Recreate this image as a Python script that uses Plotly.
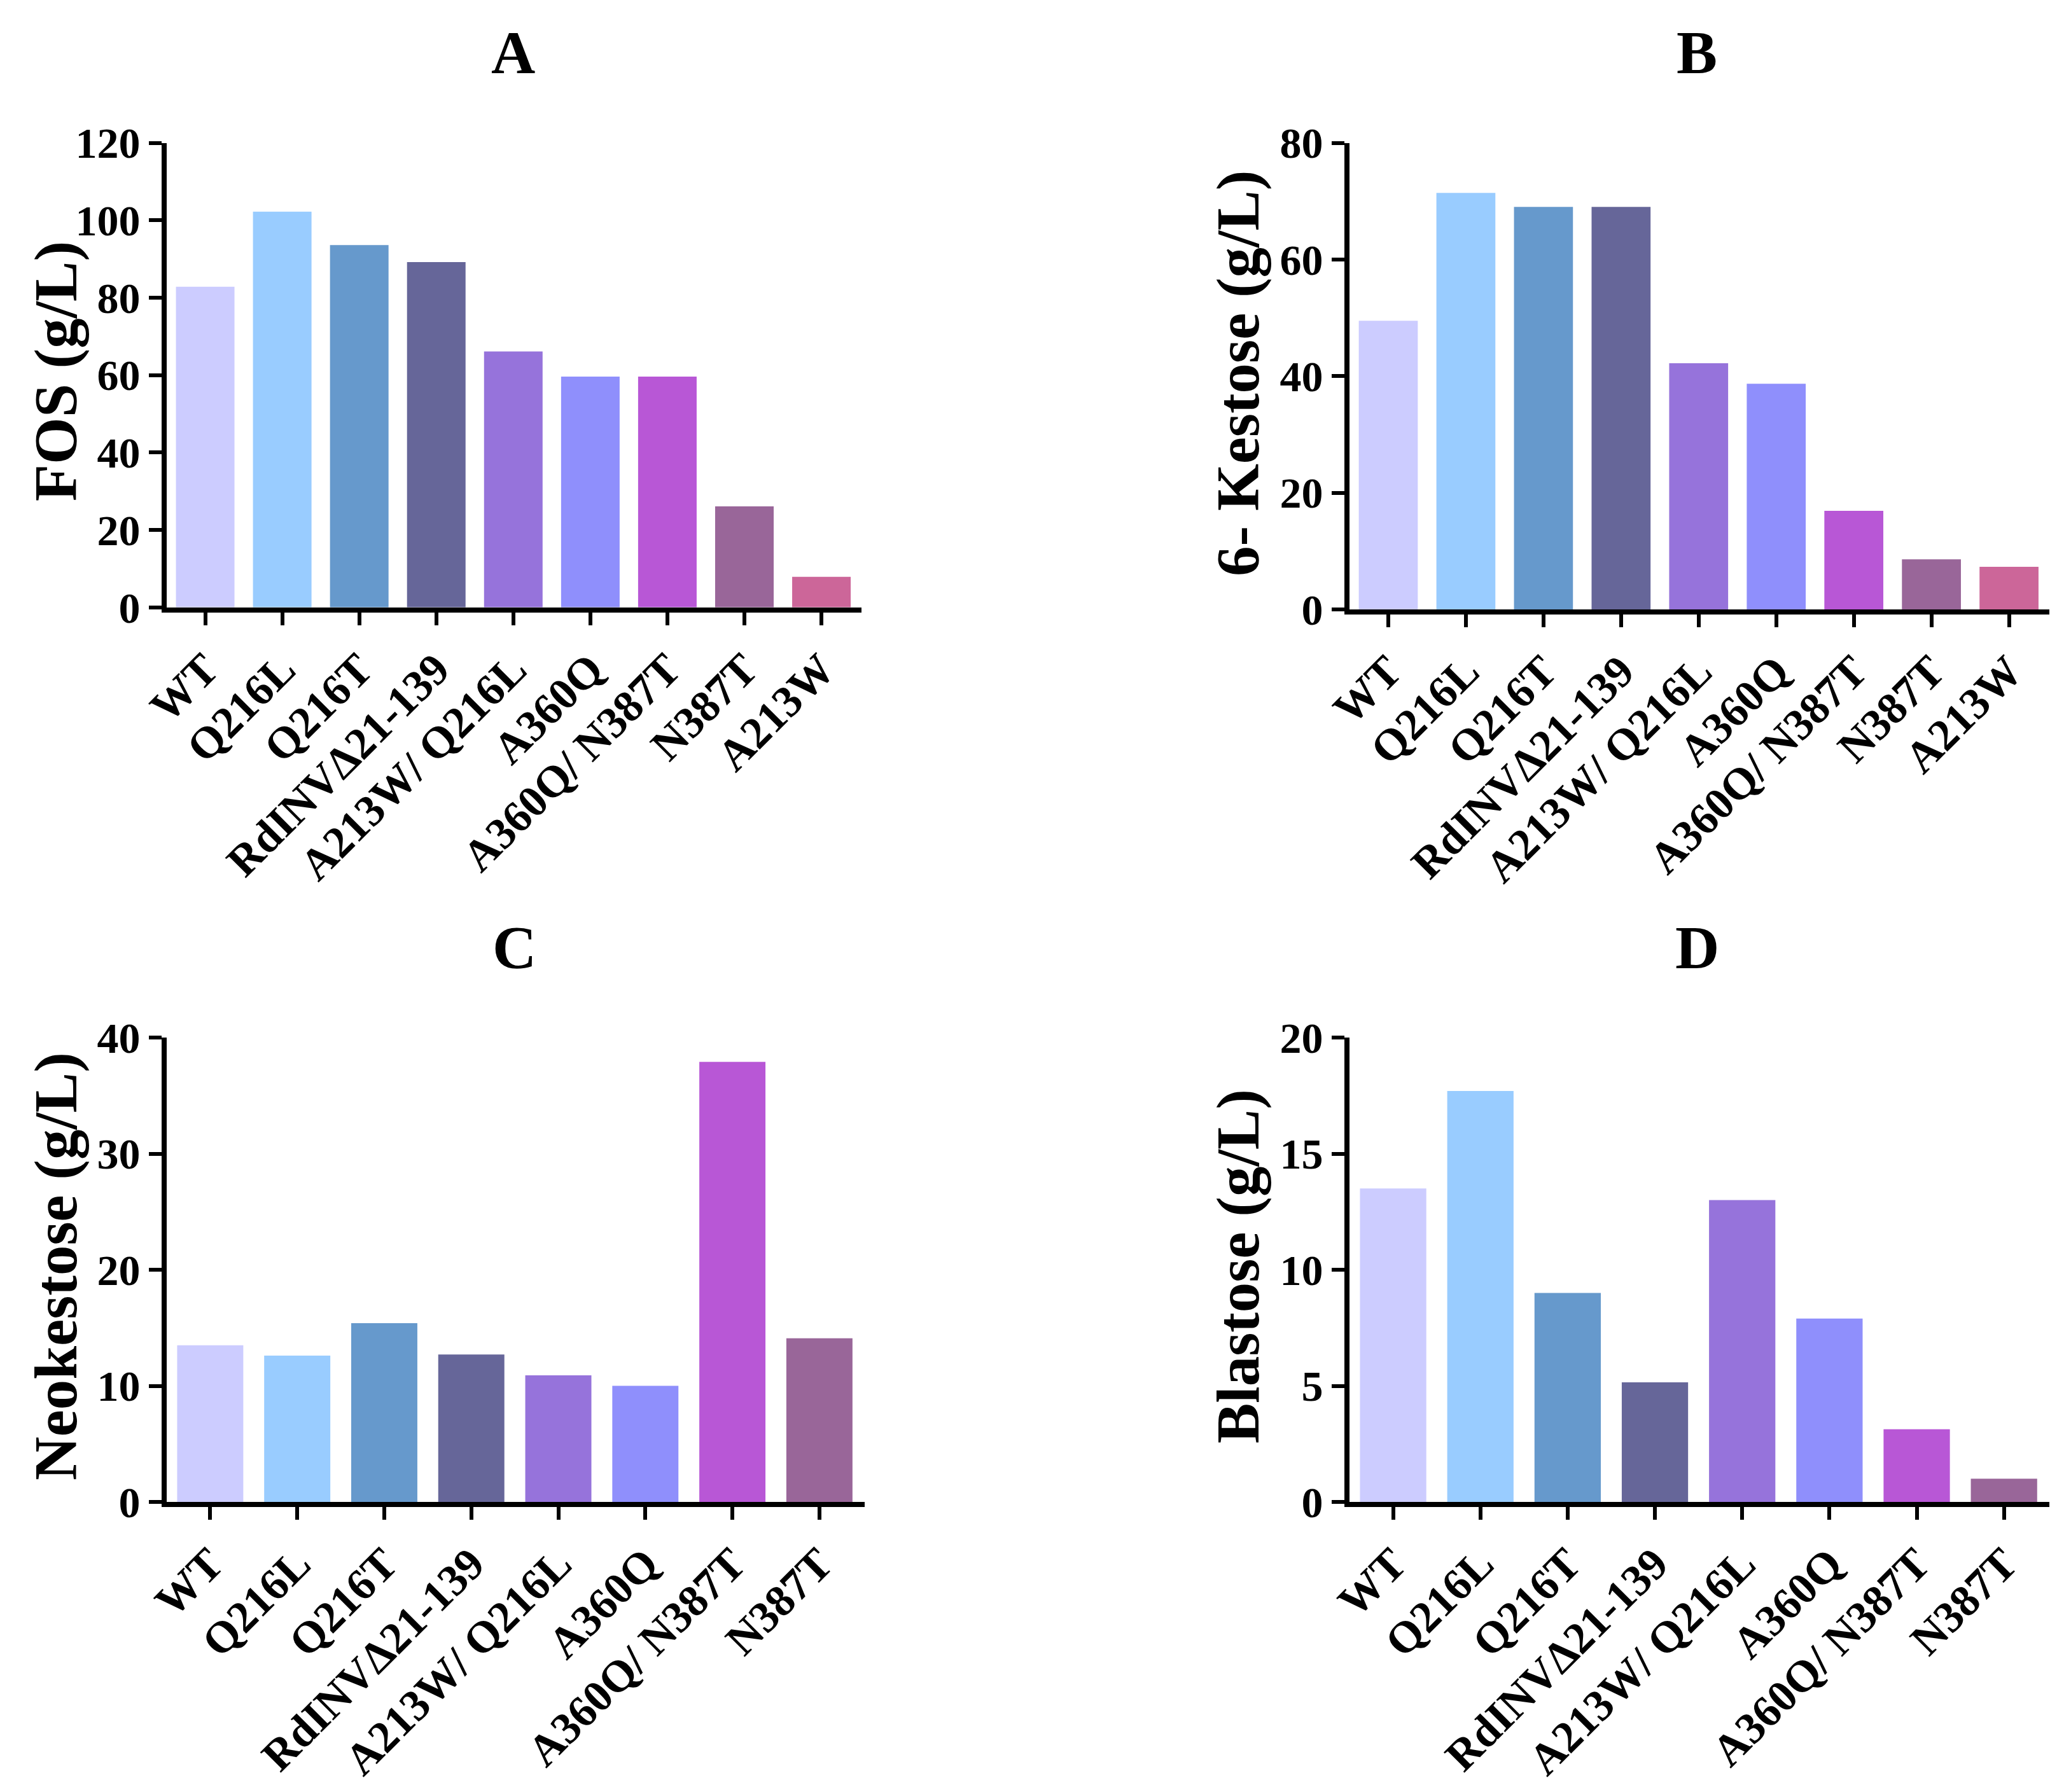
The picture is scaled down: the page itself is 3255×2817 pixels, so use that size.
import plotly.graph_objects as go

# ---------------- data ----------------
categories_ab = ["WT", "Q216L", "Q216T", "RdINVΔ21-139", "A213W/ Q216L",
                 "A360Q", "A360Q/ N387T", "N387T", "A213W"]
categories_cd = ["WT", "Q216L", "Q216T", "RdINVΔ21-139", "A213W/ Q216L",
                 "A360Q", "A360Q/ N387T", "N387T"]

fos_values = [82.8, 102.2, 93.6, 89.2, 66.1, 59.6, 59.6, 26.1, 7.9]
kestose6_values = [49.5, 71.4, 69.0, 69.0, 42.2, 38.7, 16.9, 8.6, 7.3]
neokestose_values = [13.5, 12.6, 15.4, 12.7, 10.9, 10.0, 37.9, 14.1]
blastose_values = [13.5, 17.7, 9.0, 5.15, 13.0, 7.9, 3.13, 1.0]

bar_colors = ["#CCCCFF", "#99CCFF", "#6699CC", "#666699", "#9673DB",
              "#8F8FFC", "#B857D6", "#996699", "#CC6699"]

panel_letters = ["A", "B", "C", "D"]
y_titles = ["FOS (g/L)", "6- Kestose (g/L)", "Neokestose (g/L)", "Blastose (g/L)"]
y_max = [120, 80, 40, 20]
y_dtick = [20, 20, 10, 5]

# ---------------- layout constants (page pixel positions) ----------------
PAGE_W, PAGE_H = 3255, 2817
BODY = 8  # default body margin of the html page
W, H = PAGE_W - 2 * BODY, PAGE_H - 2 * BODY
FONT = "Liberation Serif, Times New Roman, serif"


def fx(px):
    return (px - BODY) / W


def fy(py):
    return 1 - (py - BODY) / H


x_px = [(262, 1354), (2121, 3221), (262, 1359), (2121, 3221)]
y_px = [(224.5, 954.7), (224.5, 958), (1631, 2361), (1631, 2361)]
title_px = [(806, 83), (2667, 83), (808, 1489), (2667, 1489)]
ytitle_px = [(88, 584), (1946, 587), (88, 1991), (1946, 1991)]

panels = [
    (categories_ab, fos_values),
    (categories_ab, kestose6_values),
    (categories_cd, neokestose_values),
    (categories_cd, blastose_values),
]

fig = go.Figure()
annotations = []
for i, (cats, vals) in enumerate(panels):
    n = i + 1
    xa = "x" if n == 1 else f"x{n}"
    ya = "y" if n == 1 else f"y{n}"
    fig.add_trace(go.Bar(
        x=cats, y=vals, xaxis=xa, yaxis=ya,
        marker=dict(color=bar_colors[:len(cats)], line=dict(width=0)),
        width=0.76, showlegend=False,
    ))
    xkey = "xaxis" if n == 1 else f"xaxis{n}"
    ykey = "yaxis" if n == 1 else f"yaxis{n}"
    fig.layout[xkey] = dict(
        domain=[fx(x_px[i][0]), fx(x_px[i][1])], anchor=ya, automargin=False,
        range=[-0.5, len(cats) - 0.48],
        showline=True, linewidth=8, linecolor="black",
        ticks="outside", ticklen=20, tickwidth=6, tickcolor="black",
        tickangle=-45,
        tickfont=dict(family=FONT, size=70, color="black", weight="bold"),
        showgrid=False, zeroline=False, fixedrange=True,
    )
    fig.layout[ykey] = dict(
        domain=[fy(y_px[i][1]), fy(y_px[i][0])], anchor=xa, automargin=False,
        range=[0, y_max[i]], dtick=y_dtick[i], tick0=0,
        showline=True, linewidth=8, linecolor="black",
        ticks="outside", ticklen=20, tickwidth=6, tickcolor="black",
        tickfont=dict(family=FONT, size=68, color="black", weight="bold"),
        showgrid=False, zeroline=False, fixedrange=True,
    )
    tx, ty = title_px[i]
    annotations.append(dict(
        text=panel_letters[i], x=fx(tx), y=fy(ty), xref="paper", yref="paper",
        xanchor="center", yanchor="middle", showarrow=False,
        font=dict(family=FONT, size=96, color="black", weight="bold"),
    ))
    ax, ay = ytitle_px[i]
    annotations.append(dict(
        text=y_titles[i], x=fx(ax), y=fy(ay), xref="paper", yref="paper",
        xanchor="center", yanchor="middle", showarrow=False, textangle=-90,
        font=dict(family=FONT, size=95, color="black", weight="bold"),
    ))

fig.update_layout(
    width=W, height=H, autosize=False,
    margin=dict(l=0, r=0, t=0, b=0, autoexpand=False),
    paper_bgcolor="white", plot_bgcolor="white",
    annotations=annotations,
    bargap=0.24,
)

fig.write_html("out.html")
